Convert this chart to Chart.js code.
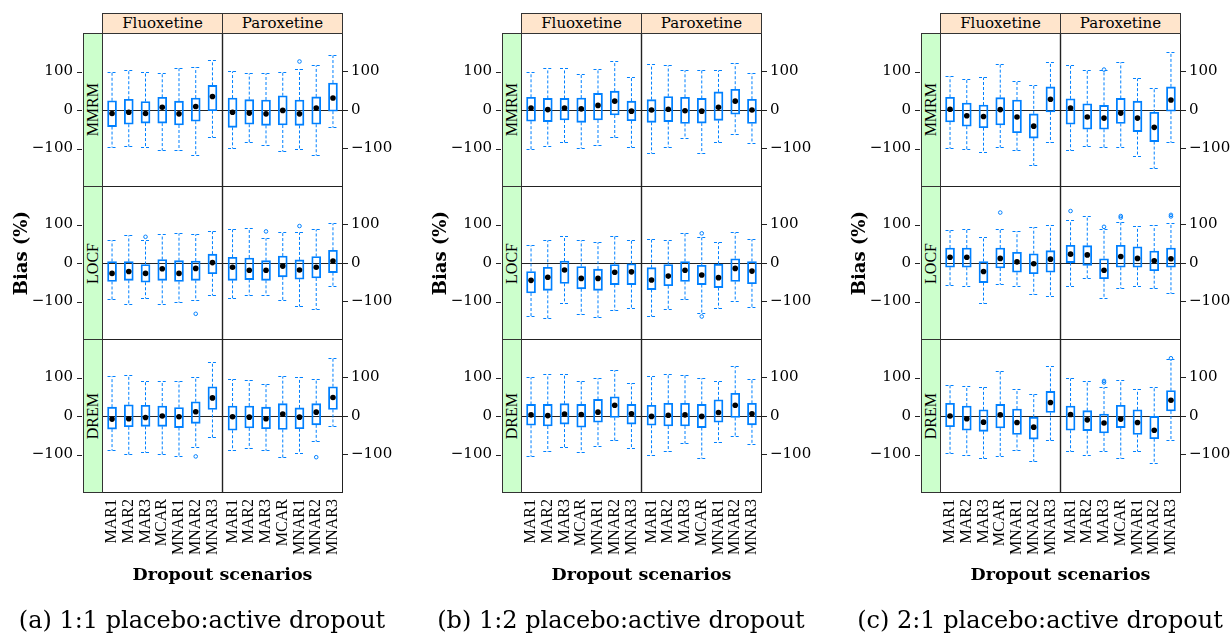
<!DOCTYPE html>
<html>
<head>
<meta charset="utf-8">
<script src="https://cdn.jsdelivr.net/npm/chart.js@4.4.1/dist/chart.umd.min.js"></script>
<style>
  body { margin: 0; background: #fff; }
  #fig { position: relative; width: 1231px; height: 637px; overflow: hidden; font-family: 'DejaVu Serif', serif; color: #000; }
  #fig canvas { position: absolute; }
  .stripTop { position: absolute; top: 13px; height: 21px; box-sizing: border-box; border: 1px solid #333; background: #ffe5cc; font-size: 15px; line-height: 19px; text-align: center; }
  .stripLeft { position: absolute; width: 20px; box-sizing: border-box; border: 1px solid #333; background: #ccffcc; display: flex; align-items: center; justify-content: center; }
  .vert { writing-mode: vertical-rl; transform: rotate(180deg); white-space: nowrap; }
  .stripLeft .vert { font-family: 'Liberation Serif', serif; font-size: 16px; }
  .ylab { position: absolute; top: 13px; height: 481px; width: 20px; display: flex; align-items: center; justify-content: center; font-weight: bold; font-size: 18px; }
  .xlab { position: absolute; top: 564px; width: 241px; text-align: center; font-weight: bold; font-size: 17.5px; line-height: 20px; }
  .cap { position: absolute; top: 606px; width: 404px; text-align: center; font-size: 24px; line-height: 28px; white-space: nowrap; }
</style>
</head>
<body>
<div id="fig"></div>
<script>
const scenarios = ['MAR1', 'MAR2', 'MAR3', 'MCAR', 'MNAR1', 'MNAR2', 'MNAR3'];
const drugs = ['Fluoxetine', 'Paroxetine'];
const methods = ['MMRM', 'LOCF', 'DREM'];
const captions = ['(a) 1:1 placebo:active dropout', '(b) 1:2 placebo:active dropout', '(c) 2:1 placebo:active dropout'];
const yTicks = [-100, 0, 100];

// each array: 7 Fluoxetine scenarios then 7 Paroxetine scenarios
// outliers: [scenario index 0-13, value]

// (a) 1:1
const aMMRM_hi  = [100, 104, 100, 97, 110, 112, 129, 102, 97, 95, 99, 106, 117, 144];
const aMMRM_q3  = [24, 28, 22, 33, 23, 31, 64, 31, 27, 26, 37, 26, 34, 70];
const aMMRM_med = [-9, -6, -9, 7, -10, 9, 35, -6, -8, -10, -1, -10, 5, 31];
const aMMRM_q1  = [-43, -37, -34, -34, -39, -29, -2, -45, -37, -40, -39, -40, -37, -3];
const aMMRM_lo  = [-95, -93, -97, -104, -104, -116, -71, -98, -84, -90, -107, -102, -117, -44];
const aMMRM_out = [[11, 126]];

const aLOCF_hi  = [61, 73, 60, 75, 78, 76, 82, 89, 92, 64, 80, 81, 89, 104];
const aLOCF_q3  = [4, 4, -4, 9, 6, 5, 23, 15, 13, 6, 18, 8, 17, 33];
const aLOCF_med = [-27, -22, -27, -15, -27, -14, 1, -11, -19, -19, -8, -18, -11, 5];
const aLOCF_q1  = [-48, -45, -50, -45, -48, -45, -28, -45, -43, -45, -36, -42, -39, -25];
const aLOCF_lo  = [-93, -106, -91, -107, -101, -95, -82, -92, -84, -82, -97, -111, -120, -61];
const aLOCF_out = [[2, 68], [5, -132], [9, 82], [11, 96]];

const aDREM_hi  = [105, 106, 90, 91, 91, 102, 141, 97, 93, 83, 104, 101, 95, 151];
const aDREM_q3  = [23, 29, 28, 26, 22, 37, 76, 26, 26, 23, 32, 21, 32, 76];
const aDREM_med = [-8, -7, -4, 0, -2, 11, 47, -2, -3, -7, 5, -3, 10, 48];
const aDREM_q1  = [-34, -28, -27, -27, -30, -19, 17, -37, -31, -33, -35, -33, -23, 17];
const aDREM_lo  = [-88, -99, -94, -98, -103, -81, -55, -88, -83, -88, -107, -97, -66, -27];
const aDREM_out = [[5, -105], [12, -107]];

// (b) 1:2
const bMMRM_hi  = [98, 109, 109, 94, 106, 126, 85, 120, 117, 103, 104, 103, 123, 97];
const bMMRM_q3  = [33, 30, 30, 31, 43, 49, 23, 27, 35, 33, 30, 47, 54, 28];
const bMMRM_med = [5, 1, 5, 3, 12, 23, -3, 0, 2, -2, -3, 7, 23, 0];
const bMMRM_q1  = [-29, -30, -26, -32, -26, -13, -28, -32, -30, -35, -34, -27, -11, -35];
const bMMRM_lo  = [-100, -94, -82, -98, -90, -71, -96, -111, -97, -74, -112, -83, -63, -86];
const bMMRM_out = [];

const bLOCF_hi  = [46, 61, 69, 59, 54, 71, 60, 62, 61, 79, 68, 54, 80, 62];
const bLOCF_q3  = [-22, -11, 5, -9, -16, -4, -2, -12, -4, 4, -6, -3, 11, 4];
const bLOCF_med = [-45, -37, -18, -40, -40, -24, -23, -44, -34, -19, -31, -38, -14, -21];
const bLOCF_q1  = [-78, -71, -53, -67, -71, -56, -56, -69, -59, -48, -56, -64, -48, -54];
const bLOCF_lo  = [-137, -144, -104, -132, -140, -121, -118, -138, -120, -93, -129, -118, -99, -113];
const bLOCF_out = [[10, 77], [10, -139]];

const bDREM_hi  = [102, 110, 110, 91, 99, 120, 87, 103, 108, 106, 98, 90, 130, 96];
const bDREM_q3  = [30, 30, 32, 30, 43, 50, 30, 28, 33, 33, 30, 42, 59, 33];
const bDREM_med = [3, 1, 5, 4, 10, 28, 6, -1, 2, 3, -1, 9, 28, 6];
const bDREM_q1  = [-24, -26, -21, -29, -16, -4, -21, -24, -26, -26, -30, -16, -4, -23];
const bDREM_lo  = [-103, -92, -80, -94, -77, -63, -84, -101, -92, -70, -110, -68, -51, -74];
const bDREM_out = [];

// (c) 2:1
const cMMRM_hi  = [89, 80, 86, 120, 75, 66, 125, 117, 103, 103, 124, 83, 57, 150];
const cMMRM_q3  = [33, 18, 13, 32, 26, -10, 60, 29, 16, 12, 30, 23, -6, 60];
const cMMRM_med = [2, -15, -17, 1, -18, -42, 28, 5, -18, -21, -8, -21, -45, 26];
const cMMRM_q1  = [-31, -42, -46, -39, -59, -73, -5, -37, -50, -50, -35, -56, -82, -3];
const cMMRM_lo  = [-98, -101, -110, -96, -103, -143, -83, -103, -94, -97, -96, -120, -150, -83];
const cMMRM_out = [[9, 105]];

const cLOCF_hi  = [87, 89, 68, 89, 82, 94, 98, 112, 122, 89, 106, 96, 98, 104];
const cLOCF_q3  = [39, 39, 4, 39, 28, 24, 32, 46, 45, 11, 46, 42, 31, 39];
const cLOCF_med = [15, 15, -22, 12, 3, -2, 10, 23, 21, -19, 17, 12, 6, 11];
const cLOCF_q1  = [-11, -11, -51, -13, -24, -28, -24, 1, -6, -41, -11, -11, -20, -11];
const cLOCF_lo  = [-56, -60, -103, -54, -60, -80, -85, -60, -38, -90, -66, -59, -66, -77];
const cLOCF_out = [[3, 131], [7, 135], [9, 94], [10, 122], [10, 118], [13, 125], [13, 121]];

const cDREM_hi  = [80, 77, 76, 117, 70, 56, 131, 98, 90, 76, 94, 70, 75, 147];
const cDREM_q3  = [33, 26, 16, 30, 18, -3, 64, 26, 14, 5, 28, 16, -1, 66];
const cDREM_med = [0, -7, -16, 3, -17, -29, 35, 4, -10, -18, -8, -17, -37, 41];
const cDREM_q1  = [-28, -37, -40, -31, -48, -60, 9, -37, -38, -44, -30, -48, -59, 13];
const cDREM_lo  = [-95, -102, -110, -103, -89, -118, -63, -91, -102, -91, -108, -91, -123, -62];
const cDREM_out = [[9, 91], [9, 87], [13, 150]];

const figures = [
  [[aMMRM_lo, aMMRM_q1, aMMRM_med, aMMRM_q3, aMMRM_hi, aMMRM_out],
   [aLOCF_lo, aLOCF_q1, aLOCF_med, aLOCF_q3, aLOCF_hi, aLOCF_out],
   [aDREM_lo, aDREM_q1, aDREM_med, aDREM_q3, aDREM_hi, aDREM_out]],
  [[bMMRM_lo, bMMRM_q1, bMMRM_med, bMMRM_q3, bMMRM_hi, bMMRM_out],
   [bLOCF_lo, bLOCF_q1, bLOCF_med, bLOCF_q3, bLOCF_hi, bLOCF_out],
   [bDREM_lo, bDREM_q1, bDREM_med, bDREM_q3, bDREM_hi, bDREM_out]],
  [[cMMRM_lo, cMMRM_q1, cMMRM_med, cMMRM_q3, cMMRM_hi, cMMRM_out],
   [cLOCF_lo, cLOCF_q1, cLOCF_med, cLOCF_q3, cLOCF_hi, cLOCF_out],
   [cDREM_lo, cDREM_q1, cDREM_med, cDREM_q3, cDREM_hi, cDREM_out]]
];

// layout stuff
const blue = '#0080ff';
const figLeft = [0, 419, 838];
const rowTop = [33, 186, 339];
const rowH = 154;
const xLabels = scenarios.concat(scenarios);
// second drug panel starts after a small gap, like lattice
const xPos = xLabels.map((_, i) => i < 7 ? i + 1 : i + 1.2);

Chart.defaults.font.family = 'DejaVu Serif';
Chart.defaults.color = '#000';

const fig = document.getElementById('fig');

function addDiv(cls, css, text, vertical) {
  const d = document.createElement('div');
  d.className = cls;
  Object.assign(d.style, css);
  if (vertical) {
    const s = document.createElement('span');
    s.className = 'vert';
    s.textContent = text;
    d.appendChild(s);
  } else {
    d.textContent = text;
  }
  fig.appendChild(d);
  return d;
}

// real minus sign on the tick labels
const fmtTick = v => String(v).replace('-', '\u2212');

// whiskers, zero line, panel border, left tick marks
function panelPlugin(lo, q1, q3, hi) {
  return {
    id: 'panelExtras',
    beforeDatasetsDraw(chart) {
      const {ctx, chartArea: a, scales: {x, y}} = chart;
      ctx.save();
      const y0 = Math.round(y.getPixelForValue(0)) + 0.5;
      ctx.strokeStyle = '#222';
      ctx.lineWidth = 1.2;
      ctx.beginPath();
      ctx.moveTo(a.left, y0);
      ctx.lineTo(a.right, y0);
      ctx.stroke();

      ctx.strokeStyle = blue;
      ctx.lineWidth = 1;
      ctx.setLineDash([3, 2]);
      xPos.forEach((v, i) => {
        const px = x.getPixelForValue(v);
        [[q3[i], hi[i]], [q1[i], lo[i]]].forEach(([from, to]) => {
          const p1 = y.getPixelForValue(from);
          const p2 = Math.round(y.getPixelForValue(to)) + 0.5;
          ctx.beginPath();
          ctx.moveTo(px, p1);
          ctx.lineTo(px, p2);
          ctx.moveTo(px - 4.5, p2);
          ctx.lineTo(px + 4.5, p2);
          ctx.stroke();
        });
      });
      ctx.restore();
    },
    afterDatasetsDraw(chart) {
      const {ctx, chartArea: a, scales: {x, y}} = chart;
      ctx.save();
      ctx.strokeStyle = '#222';
      ctx.lineWidth = 1;
      ctx.strokeRect(a.left + 0.5, a.top + 0.5, a.width - 1, a.height - 1);
      // divider between the two drugs
      const xd = x.getPixelForValue(7.6);
      ctx.lineWidth = 1.4;
      ctx.beginPath();
      ctx.moveTo(xd, a.top);
      ctx.lineTo(xd, a.bottom);
      ctx.stroke();
      // left tick marks sit outside the green strip
      ctx.lineWidth = 1;
      yTicks.forEach(t => {
        const py = Math.round(y.getPixelForValue(t)) + 0.5;
        ctx.beginPath();
        ctx.moveTo(a.left - 25, py);
        ctx.lineTo(a.left - 20, py);
        ctx.stroke();
      });
      ctx.restore();
    }
  };
}

function makeRow(f, r) {
  const [lo, q1, med, q3, hi, out] = figures[f][r];
  const bottom = r === 2;
  const xH = bottom ? 100 : 0;
  const cv = document.createElement('canvas');
  cv.width = 410;
  cv.height = rowH + xH;
  cv.style.left = figLeft[f] + 'px';
  cv.style.top = rowTop[r] + 'px';
  fig.appendChild(cv);

  const setY = s => { s.ticks = yTicks.map(v => ({value: v})); };

  new Chart(cv.getContext('2d'), {
    type: 'bar',
    data: {
      datasets: [
        {
          type: 'bar',
          data: xPos.map((v, i) => ({x: v, y: [q1[i], q3[i]]})),
          backgroundColor: 'rgba(0,0,0,0)',
          borderColor: blue,
          borderWidth: 1.2,
          borderSkipped: false,
          barThickness: 9,
          order: 2
        },
        {
          type: 'scatter',
          data: xPos.map((v, i) => ({x: v, y: med[i]})),
          pointRadius: 2.8,
          pointBackgroundColor: '#000',
          pointBorderWidth: 0,
          order: 1
        },
        {
          type: 'scatter',
          data: out.map(o => ({x: xPos[o[0]], y: o[1]})),
          pointRadius: 1.8,
          pointBackgroundColor: 'rgba(0,0,0,0)',
          pointBorderColor: blue,
          pointBorderWidth: 1,
          order: 0
        }
      ]
    },
    options: {
      responsive: false,
      animation: false,
      events: [],
      layout: {padding: 0, autoPadding: false},
      plugins: {legend: {display: false}, tooltip: {enabled: false}},
      scales: {
        x: {
          type: 'linear',
          min: 0.4,
          max: 14.8,
          offset: false,
          display: bottom,
          grid: {display: false, drawTicks: false, offset: false},
          border: {display: false},
          afterBuildTicks: s => { s.ticks = xPos.map(v => ({value: v})); },
          afterFit: s => { s.height = xH; s.paddingLeft = 0; s.paddingRight = 0; },
          ticks: {
            autoSkip: false,
            minRotation: 90,
            maxRotation: 90,
            padding: 6,
            font: {family: 'Liberation Serif', size: 16},
            callback: (v, i) => xLabels[i]
          }
        },
        y: {
          type: 'linear',
          position: 'left',
          min: -200,
          max: 200,
          grid: {display: false, drawTicks: false},
          border: {display: false},
          afterBuildTicks: setY,
          afterFit: s => { s.width = 102; s.paddingTop = 0; s.paddingBottom = 0; },
          ticks: {padding: 29, font: {size: 15}, callback: fmtTick}
        },
        y2: {
          type: 'linear',
          axis: 'y',
          position: 'right',
          min: -200,
          max: 200,
          grid: {drawOnChartArea: false, drawTicks: true, tickLength: 5, color: '#222'},
          border: {display: false},
          afterBuildTicks: setY,
          afterFit: s => { s.width = 67; s.paddingTop = 0; s.paddingBottom = 0; },
          ticks: {padding: 3, font: {size: 15}, callback: fmtTick}
        }
      }
    },
    plugins: [panelPlugin(lo, q1, q3, hi)]
  });
}

figures.forEach((rows, f) => {
  const ox = figLeft[f];
  rows.forEach((_, r) => {
    makeRow(f, r);
    addDiv('stripLeft', {left: (ox + 83) + 'px', top: rowTop[r] + 'px', height: rowH + 'px'}, methods[r], true);
  });
  addDiv('stripTop', {left: (ox + 102) + 'px', width: '121px'}, drugs[0]);
  addDiv('stripTop', {left: (ox + 222) + 'px', width: '121px'}, drugs[1]);
  addDiv('ylab', {left: (ox + 10) + 'px'}, 'Bias (%)', true);
  addDiv('xlab', {left: (ox + 102) + 'px'}, 'Dropout scenarios');
  addDiv('cap', {left: ox + 'px'}, captions[f]);
});
</script>
</body>
</html>
